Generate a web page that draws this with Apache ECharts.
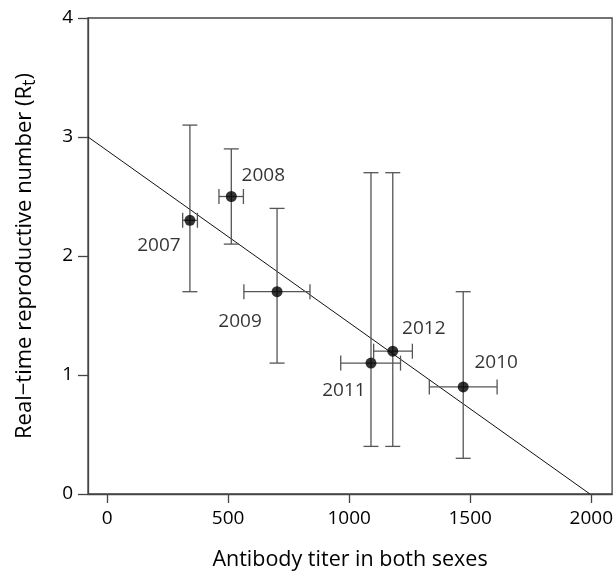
<!DOCTYPE html>
<html><head><meta charset="utf-8">
<script src="https://cdn.jsdelivr.net/npm/echarts@6/dist/echarts.min.js"></script>
<style>html,body{margin:0;padding:0;background:#fff}#c{width:616px;height:576px}</style>
</head><body><div id="c"></div>
<script>
const years = ['2007', '2008', '2009', '2010', '2011', '2012'];
const titer = [342, 513, 702, 1471, 1090, 1180];
const titerLow = [312, 462, 565, 1331, 965, 1101];
const titerHigh = [373, 563, 838, 1611, 1212, 1261];
const rt = [2.3, 2.5, 1.7, 0.9, 1.1, 1.2];
const rtLow = [1.7, 2.1, 1.1, 0.3, 0.4, 0.4];
const rtHigh = [3.1, 2.9, 2.4, 1.7, 2.7, 2.7];
const fitIntercept = 2.886;
const fitSlope = -0.001447;
const xTicks = [0, 500, 1000, 1500, 2000];
const xMin = -79, xMax = 2086;

const FONT = '"Open Sans", "DejaVu Sans", sans-serif';
const labelOffsets = {
  '2007': [-31, 25], '2008': [32, -21], '2009': [-37, 30],
  '2010': [33, -24], '2011': [-27, 27], '2012': [31, -23]
};

const errData = years.map((y, i) => [titer[i], rt[i], titerLow[i], titerHigh[i], rtLow[i], rtHigh[i]]);
const fitEnd = -fitIntercept / fitSlope;
const fitData = [[xMin, fitIntercept + fitSlope * xMin], [fitEnd, 0]];

const chart = echarts.init(document.getElementById('c'), null, {renderer: 'canvas'});
const CAP = 7.5;
const errStyle = {stroke: '#555', lineWidth: 1.3};
chart.setOption({
  animation: false,
  backgroundColor: '#fff',
  grid: {left: 88, right: 1, top: 18, bottom: 82, show: true, borderColor: '#444', borderWidth: 1.3, backgroundColor: 'transparent'},
  xAxis: {
    type: 'value', min: xMin, max: xMax,
    name: 'Antibody titer in both sexes', nameLocation: 'middle', nameGap: 55,
    nameTextStyle: {fontFamily: FONT, fontSize: 21.5, color: '#000'},
    axisLine: {show: true, onZero: false, lineStyle: {color: '#444', width: 1.3}},
    axisTick: {show: true, length: 9, customValues: xTicks, lineStyle: {color: '#444', width: 1.3}},
    axisLabel: {customValues: xTicks, margin: 15, fontFamily: FONT, fontSize: 19, color: '#000',
      formatter: v => String(v)},
    splitLine: {show: false}
  },
  yAxis: {
    type: 'value', min: 0, max: 4, interval: 1,
    name: '{n|Real\u2212time reproductive number (R}{s|t}{n|)}', nameLocation: 'middle', nameGap: 49,
    nameTextStyle: {fontFamily: FONT, fontSize: 22, color: '#000',
      rich: {n: {fontFamily: FONT, fontSize: 22, color: '#000'}, s: {fontFamily: FONT, fontSize: 18, color: '#000', verticalAlign: 'bottom', padding: [10, 0, 0, 0]}}},
    axisLine: {show: true, onZero: false, lineStyle: {color: '#444', width: 1.3}},
    axisTick: {show: true, length: 10, lineStyle: {color: '#444', width: 1.3}},
    axisLabel: {margin: 15, fontFamily: FONT, fontSize: 19, color: '#000'},
    splitLine: {show: false}
  },
  series: [
    {
      type: 'line', data: fitData, symbol: 'none', silent: true,
      lineStyle: {color: '#111', width: 1}, z: 2
    },
    {
      type: 'custom', data: errData, z: 3,
      renderItem: function (params, api) {
        const x = api.value(0), y = api.value(1);
        const xl = api.coord([api.value(2), y]);
        const xh = api.coord([api.value(3), y]);
        const yl = api.coord([x, api.value(4)]);
        const yh = api.coord([x, api.value(5)]);
        const L = (x1, y1, x2, y2) => ({type: 'line', shape: {x1, y1, x2, y2}, style: errStyle});
        return {type: 'group', children: [
          L(yl[0], yl[1], yh[0], yh[1]),
          L(yl[0] - CAP, yl[1], yl[0] + CAP, yl[1]),
          L(yh[0] - CAP, yh[1], yh[0] + CAP, yh[1]),
          L(xl[0], xl[1], xh[0], xh[1]),
          L(xl[0], xl[1] - CAP, xl[0], xl[1] + CAP),
          L(xh[0], xh[1] - CAP, xh[0], xh[1] + CAP)
        ]};
      }
    },
    {
      type: 'scatter', z: 4, symbol: 'circle', symbolSize: 11,
      itemStyle: {color: '#000'},
      data: years.map((yr, i) => ({
        value: [titer[i], rt[i]], name: yr,
        label: {show: true, formatter: yr, position: 'inside', offset: labelOffsets[yr],
          fontFamily: FONT, fontSize: 19, color: '#000'}
      }))
    }
  ]
});
</script></body></html>
